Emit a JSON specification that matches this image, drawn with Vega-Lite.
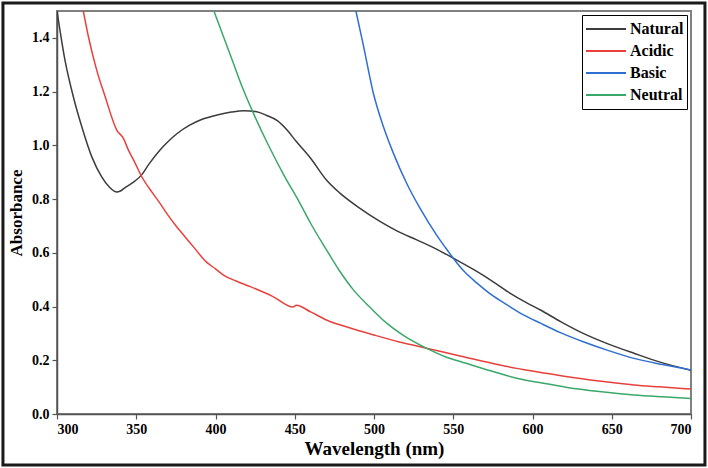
{
  "$schema": "https://vega.github.io/schema/vega-lite/v6.json",
  "autosize": {"type": "none"},
  "padding": {"left": 57, "top": 11, "right": 17, "bottom": 54},
  "width": 634,
  "height": 403,
  "background": "white",
  "config": {
    "font": "Liberation Serif",
    "view": {"stroke": "#808080", "strokeWidth": 2},
    "axis": {
      "labelFont": "Liberation Serif",
      "labelFontWeight": "bold",
      "labelFontSize": 14,
      "labelColor": "#000",
      "titleFont": "Liberation Serif",
      "titleFontWeight": "bold",
      "titleColor": "#000",
      "domainColor": "#555",
      "domainWidth": 1.5,
      "tickColor": "#555",
      "tickWidth": 1.2,
      "grid": false,
      "labelOverlap": false
    }
  },
  "datasets": {
    "spectra": [
      {"wl": 300, "abs": 1.5, "sample": "Natural"},
      {"wl": 305, "abs": 1.318, "sample": "Natural"},
      {"wl": 310.3, "abs": 1.181, "sample": "Natural"},
      {"wl": 315.6, "abs": 1.07, "sample": "Natural"},
      {"wl": 321.9, "abs": 0.958, "sample": "Natural"},
      {"wl": 328.2, "abs": 0.883, "sample": "Natural"},
      {"wl": 333, "abs": 0.845, "sample": "Natural"},
      {"wl": 337.7, "abs": 0.826, "sample": "Natural"},
      {"wl": 340, "abs": 0.83, "sample": "Natural"},
      {"wl": 343, "abs": 0.843, "sample": "Natural"},
      {"wl": 348, "abs": 0.862, "sample": "Natural"},
      {"wl": 353.4, "abs": 0.89, "sample": "Natural"},
      {"wl": 358, "abs": 0.93, "sample": "Natural"},
      {"wl": 365, "abs": 0.983, "sample": "Natural"},
      {"wl": 369, "abs": 1.008, "sample": "Natural"},
      {"wl": 376, "abs": 1.045, "sample": "Natural"},
      {"wl": 384, "abs": 1.076, "sample": "Natural"},
      {"wl": 392, "abs": 1.098, "sample": "Natural"},
      {"wl": 401, "abs": 1.113, "sample": "Natural"},
      {"wl": 410, "abs": 1.124, "sample": "Natural"},
      {"wl": 418, "abs": 1.129, "sample": "Natural"},
      {"wl": 426, "abs": 1.125, "sample": "Natural"},
      {"wl": 432, "abs": 1.112, "sample": "Natural"},
      {"wl": 439, "abs": 1.092, "sample": "Natural"},
      {"wl": 445, "abs": 1.058, "sample": "Natural"},
      {"wl": 451, "abs": 1.014, "sample": "Natural"},
      {"wl": 460, "abs": 0.952, "sample": "Natural"},
      {"wl": 470, "abs": 0.871, "sample": "Natural"},
      {"wl": 478.5, "abs": 0.822, "sample": "Natural"},
      {"wl": 490, "abs": 0.77, "sample": "Natural"},
      {"wl": 504, "abs": 0.716, "sample": "Natural"},
      {"wl": 515, "abs": 0.68, "sample": "Natural"},
      {"wl": 527, "abs": 0.648, "sample": "Natural"},
      {"wl": 540, "abs": 0.612, "sample": "Natural"},
      {"wl": 550, "abs": 0.58, "sample": "Natural"},
      {"wl": 563, "abs": 0.537, "sample": "Natural"},
      {"wl": 575, "abs": 0.493, "sample": "Natural"},
      {"wl": 586, "abs": 0.449, "sample": "Natural"},
      {"wl": 595, "abs": 0.418, "sample": "Natural"},
      {"wl": 605, "abs": 0.387, "sample": "Natural"},
      {"wl": 618, "abs": 0.343, "sample": "Natural"},
      {"wl": 632, "abs": 0.3, "sample": "Natural"},
      {"wl": 648, "abs": 0.26, "sample": "Natural"},
      {"wl": 664, "abs": 0.226, "sample": "Natural"},
      {"wl": 680, "abs": 0.194, "sample": "Natural"},
      {"wl": 700, "abs": 0.163, "sample": "Natural"},

      {"wl": 316.6, "abs": 1.5, "sample": "Acidic"},
      {"wl": 319.8, "abs": 1.405, "sample": "Acidic"},
      {"wl": 325, "abs": 1.281, "sample": "Acidic"},
      {"wl": 330.4, "abs": 1.181, "sample": "Acidic"},
      {"wl": 337.7, "abs": 1.057, "sample": "Acidic"},
      {"wl": 341.9, "abs": 1.026, "sample": "Acidic"},
      {"wl": 345, "abs": 0.983, "sample": "Acidic"},
      {"wl": 349.2, "abs": 0.935, "sample": "Acidic"},
      {"wl": 353.4, "abs": 0.884, "sample": "Acidic"},
      {"wl": 360, "abs": 0.825, "sample": "Acidic"},
      {"wl": 365, "abs": 0.784, "sample": "Acidic"},
      {"wl": 370, "abs": 0.74, "sample": "Acidic"},
      {"wl": 375.5, "abs": 0.697, "sample": "Acidic"},
      {"wl": 381, "abs": 0.658, "sample": "Acidic"},
      {"wl": 386, "abs": 0.623, "sample": "Acidic"},
      {"wl": 394, "abs": 0.567, "sample": "Acidic"},
      {"wl": 400, "abs": 0.54, "sample": "Acidic"},
      {"wl": 405, "abs": 0.517, "sample": "Acidic"},
      {"wl": 413, "abs": 0.495, "sample": "Acidic"},
      {"wl": 422, "abs": 0.474, "sample": "Acidic"},
      {"wl": 436, "abs": 0.438, "sample": "Acidic"},
      {"wl": 449, "abs": 0.398, "sample": "Acidic"},
      {"wl": 451, "abs": 0.405, "sample": "Acidic"},
      {"wl": 460, "abs": 0.38, "sample": "Acidic"},
      {"wl": 470, "abs": 0.35, "sample": "Acidic"},
      {"wl": 485, "abs": 0.32, "sample": "Acidic"},
      {"wl": 500, "abs": 0.294, "sample": "Acidic"},
      {"wl": 516, "abs": 0.268, "sample": "Acidic"},
      {"wl": 533, "abs": 0.245, "sample": "Acidic"},
      {"wl": 555, "abs": 0.215, "sample": "Acidic"},
      {"wl": 579.5, "abs": 0.182, "sample": "Acidic"},
      {"wl": 600, "abs": 0.16, "sample": "Acidic"},
      {"wl": 622, "abs": 0.139, "sample": "Acidic"},
      {"wl": 642, "abs": 0.123, "sample": "Acidic"},
      {"wl": 664, "abs": 0.108, "sample": "Acidic"},
      {"wl": 680, "abs": 0.101, "sample": "Acidic"},
      {"wl": 700, "abs": 0.093, "sample": "Acidic"},

      {"wl": 488.6, "abs": 1.5, "sample": "Basic"},
      {"wl": 493.2, "abs": 1.375, "sample": "Basic"},
      {"wl": 499.6, "abs": 1.194, "sample": "Basic"},
      {"wl": 505.9, "abs": 1.07, "sample": "Basic"},
      {"wl": 512.2, "abs": 0.971, "sample": "Basic"},
      {"wl": 520.6, "abs": 0.859, "sample": "Basic"},
      {"wl": 529, "abs": 0.766, "sample": "Basic"},
      {"wl": 539.5, "abs": 0.666, "sample": "Basic"},
      {"wl": 545, "abs": 0.62, "sample": "Basic"},
      {"wl": 550, "abs": 0.58, "sample": "Basic"},
      {"wl": 557, "abs": 0.53, "sample": "Basic"},
      {"wl": 565, "abs": 0.487, "sample": "Basic"},
      {"wl": 574, "abs": 0.444, "sample": "Basic"},
      {"wl": 584, "abs": 0.406, "sample": "Basic"},
      {"wl": 594, "abs": 0.37, "sample": "Basic"},
      {"wl": 605, "abs": 0.338, "sample": "Basic"},
      {"wl": 618, "abs": 0.302, "sample": "Basic"},
      {"wl": 632, "abs": 0.269, "sample": "Basic"},
      {"wl": 648, "abs": 0.236, "sample": "Basic"},
      {"wl": 664, "abs": 0.207, "sample": "Basic"},
      {"wl": 682, "abs": 0.184, "sample": "Basic"},
      {"wl": 700, "abs": 0.164, "sample": "Basic"},

      {"wl": 399, "abs": 1.5, "sample": "Neutral"},
      {"wl": 405, "abs": 1.405, "sample": "Neutral"},
      {"wl": 411, "abs": 1.31, "sample": "Neutral"},
      {"wl": 417, "abs": 1.215, "sample": "Neutral"},
      {"wl": 424, "abs": 1.118, "sample": "Neutral"},
      {"wl": 433, "abs": 1.005, "sample": "Neutral"},
      {"wl": 442.8, "abs": 0.893, "sample": "Neutral"},
      {"wl": 453.3, "abs": 0.784, "sample": "Neutral"},
      {"wl": 460, "abs": 0.71, "sample": "Neutral"},
      {"wl": 470, "abs": 0.611, "sample": "Neutral"},
      {"wl": 478, "abs": 0.535, "sample": "Neutral"},
      {"wl": 487, "abs": 0.462, "sample": "Neutral"},
      {"wl": 497, "abs": 0.4, "sample": "Neutral"},
      {"wl": 508, "abs": 0.338, "sample": "Neutral"},
      {"wl": 520, "abs": 0.287, "sample": "Neutral"},
      {"wl": 533, "abs": 0.245, "sample": "Neutral"},
      {"wl": 545, "abs": 0.213, "sample": "Neutral"},
      {"wl": 558, "abs": 0.189, "sample": "Neutral"},
      {"wl": 574, "abs": 0.16, "sample": "Neutral"},
      {"wl": 590, "abs": 0.133, "sample": "Neutral"},
      {"wl": 606, "abs": 0.115, "sample": "Neutral"},
      {"wl": 622, "abs": 0.099, "sample": "Neutral"},
      {"wl": 642, "abs": 0.084, "sample": "Neutral"},
      {"wl": 664, "abs": 0.071, "sample": "Neutral"},
      {"wl": 682, "abs": 0.064, "sample": "Neutral"},
      {"wl": 700, "abs": 0.058, "sample": "Neutral"}
    ]
  },
  "layer": [
    {
      "description": "Outer frame drawn around the whole figure",
      "data": {"values": [{}]},
      "mark": {"type": "rect", "fillOpacity": 0, "stroke": "#1a1a1a", "strokeWidth": 3, "clip": false},
      "encoding": {
        "x": {"datum": 265.9, "type": "quantitative"},
        "x2": {"datum": 708.8},
        "y": {"datum": 1.53, "type": "quantitative"},
        "y2": {"datum": -0.19}
      }
    },
    {
      "data": {"name": "spectra"},
      "mark": {"type": "line", "strokeWidth": 1.5, "clip": true, "interpolate": "monotone"},
      "encoding": {
        "x": {
          "field": "wl",
          "type": "quantitative",
          "scale": {"domain": [300, 700], "nice": false, "zero": false},
          "axis": {
            "title": "Wavelength (nm)",
            "titleFontSize": 19,
            "titlePadding": 3,
            "values": [300, 325, 350, 375, 400, 425, 450, 475, 500, 525, 550, 575, 600, 625, 650, 675, 700],
            "labelExpr": "datum.value % 50 === 0 ? datum.label : ''",
            "tickSize": {"condition": {"test": "datum.value % 50 === 0", "value": 5}, "value": 3},
            "labelPadding": 3
          }
        },
        "y": {
          "field": "abs",
          "type": "quantitative",
          "scale": {"domain": [0, 1.5], "nice": false},
          "axis": {
            "title": "Absorbance",
            "titleFontSize": 17,
            "titlePadding": 6,
            "values": [0, 0.1, 0.2, 0.3, 0.4, 0.5, 0.6, 0.7, 0.8, 0.9, 1.0, 1.1, 1.2, 1.3, 1.4],
            "labelExpr": "abs(datum.value * 5 - round(datum.value * 5)) < 0.001 ? format(datum.value, '.1f') : ''",
            "tickSize": {"condition": {"test": "abs(datum.value * 5 - round(datum.value * 5)) < 0.001", "value": 5}, "value": 3},
            "labelPadding": 3
          }
        },
        "color": {
          "field": "sample",
          "type": "nominal",
          "scale": {
            "domain": ["Natural", "Acidic", "Basic", "Neutral"],
            "range": ["#3c3c3c", "#e8413c", "#2f6fd0", "#3aa868"]
          },
          "legend": {
            "title": null,
            "orient": "none",
            "legendX": 525,
            "legendY": 4,
            "strokeColor": "#000",
            "fillColor": "white",
            "padding": 3,
            "symbolType": "stroke",
            "symbolSize": 1600,
            "symbolStrokeWidth": 2,
            "labelFont": "Liberation Serif",
            "labelFontWeight": "bold",
            "labelFontSize": 16,
            "labelColor": "#000",
            "labelOffset": 3,
            "clipHeight": 22,
            "rowPadding": 0
          }
        }
      }
    }
  ]
}
